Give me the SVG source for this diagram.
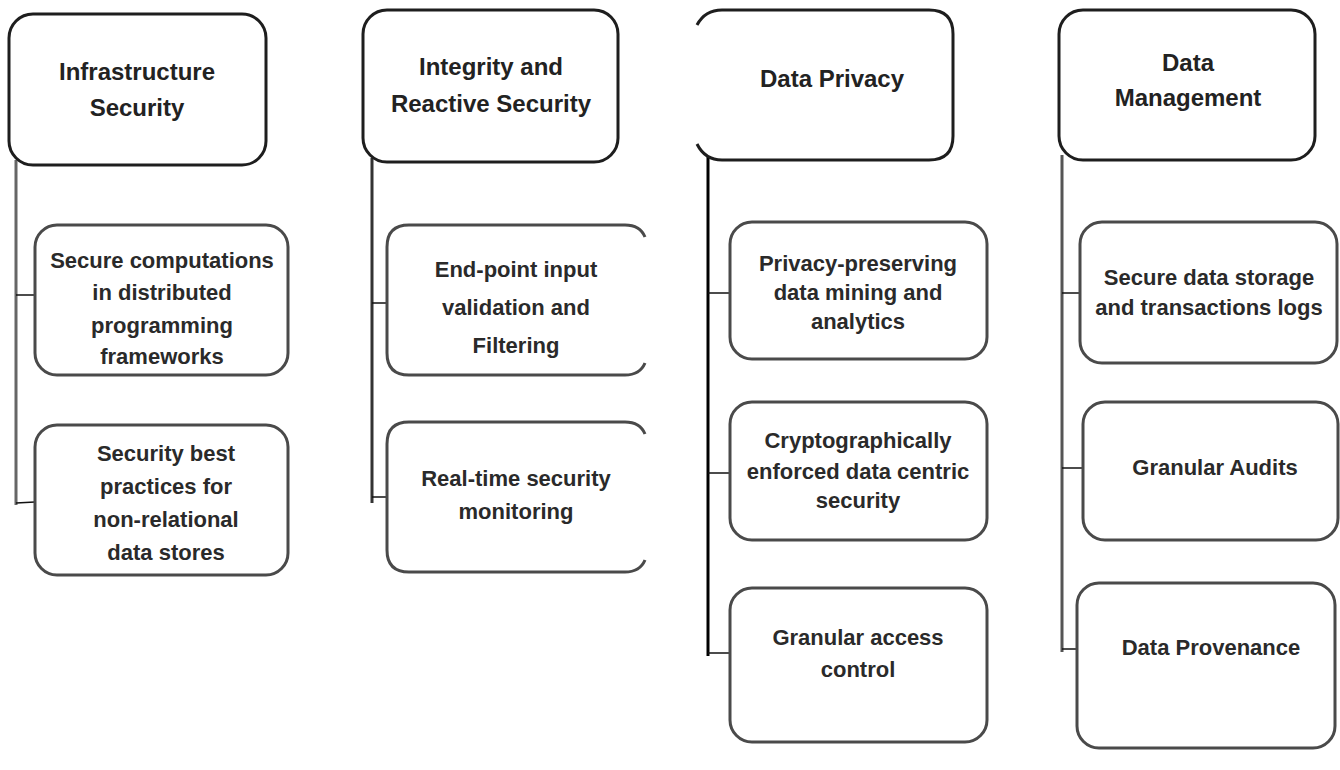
<svg xmlns="http://www.w3.org/2000/svg" width="1340" height="770" viewBox="0 0 1340 770">
<style>
  .hdr { fill: #fff; stroke: #1e1e1e; stroke-width: 3; }
  .box { fill: #fff; stroke: #4a4a4a; stroke-width: 3; }
  .ht { font-family: "Liberation Sans", Arial, sans-serif; font-size: 24px; font-weight: bold; fill: #222; text-anchor: middle; }
  .bt { font-family: "Liberation Sans", Arial, sans-serif; font-size: 22px; font-weight: bold; fill: #2a2a2a; text-anchor: middle; }
  .trunk { fill: none; stroke-width: 3; }
  .branch { fill: none; stroke: #111; stroke-width: 1.5; }
</style>
<rect width="1340" height="770" fill="#fff"/>

<g id="connectors">
  <line class="trunk" x1="16" y1="160" x2="16" y2="505" stroke="#666"/>
  <line class="branch" x1="16" y1="295" x2="35" y2="295"/>
  <line class="branch" x1="16" y1="503" x2="35" y2="502"/>

  <line class="trunk" x1="372" y1="158" x2="372" y2="503" stroke="#333" stroke-width="3.5"/>
  <line class="branch" x1="372" y1="303" x2="387" y2="303"/>
  <line class="branch" x1="372" y1="497" x2="387" y2="497"/>

  <line class="trunk" x1="708" y1="156" x2="708" y2="656" stroke="#000" stroke-width="4"/>
  <line class="branch" x1="708" y1="293" x2="730" y2="293"/>
  <line class="branch" x1="708" y1="473" x2="730" y2="473"/>
  <line class="branch" x1="708" y1="653" x2="730" y2="653"/>

  <line class="trunk" x1="1062" y1="155" x2="1062" y2="652" stroke="#555"/>
  <line class="branch" x1="1062" y1="293" x2="1080" y2="293"/>
  <line class="branch" x1="1062" y1="468" x2="1083" y2="468"/>
  <line class="branch" x1="1062" y1="649" x2="1077" y2="649"/>
</g>

<g id="infrastructure-security">
  <rect class="hdr" x="9" y="14" width="257" height="151" rx="24"/>
  <text class="ht" x="137" y="80">Infrastructure</text>
  <text class="ht" x="137" y="116">Security</text>
</g>
<g id="secure-computations">
  <rect class="box" x="35" y="225" width="253" height="150" rx="22"/>
  <text class="bt" x="162" y="268">Secure computations</text>
  <text class="bt" x="162" y="300">in distributed</text>
  <text class="bt" x="162" y="333">programming</text>
  <text class="bt" x="162" y="364">frameworks</text>
</g>
<g id="security-best-practices">
  <rect class="box" x="35" y="425" width="253" height="150" rx="22"/>
  <text class="bt" x="166" y="461">Security best</text>
  <text class="bt" x="166" y="494">practices for</text>
  <text class="bt" x="166" y="527">non-relational</text>
  <text class="bt" x="166" y="560">data stores</text>
</g>

<g id="integrity-reactive-security">
  <rect class="hdr" x="363" y="10" width="255" height="152" rx="24"/>
  <text class="ht" x="491" y="75">Integrity and</text>
  <text class="ht" x="491" y="112">Reactive Security</text>
</g>
<g id="endpoint-input-validation">
  <path class="box" d="M645,237 Q640,225 625,225 L409,225 Q387,225 387,247 L387,353 Q387,375 409,375 L625,375 Q640,375 645,363"/>
  <text class="bt" x="516" y="277">End-point input</text>
  <text class="bt" x="516" y="315">validation and</text>
  <text class="bt" x="516" y="353">Filtering</text>
</g>
<g id="realtime-security-monitoring">
  <path class="box" d="M645,434 Q640,422 625,422 L409,422 Q387,422 387,444 L387,550 Q387,572 409,572 L625,572 Q640,572 645,560"/>
  <text class="bt" x="516" y="486">Real-time security</text>
  <text class="bt" x="516" y="519">monitoring</text>
</g>

<g id="data-privacy">
  <path class="hdr" d="M697,25 Q705,10 722,10 L929,10 Q953,10 953,34 L953,136 Q953,160 929,160 L722,160 Q705,160 697,144"/>
  <text class="ht" x="832" y="87">Data Privacy</text>
</g>
<g id="privacy-preserving-mining">
  <rect class="box" x="730" y="222" width="257" height="137" rx="22"/>
  <text class="bt" x="858" y="271">Privacy-preserving</text>
  <text class="bt" x="858" y="300">data mining and</text>
  <text class="bt" x="858" y="329">analytics</text>
</g>
<g id="cryptographically-enforced">
  <rect class="box" x="730" y="402" width="257" height="138" rx="22"/>
  <text class="bt" x="858" y="448">Cryptographically</text>
  <text class="bt" x="858" y="479">enforced data centric</text>
  <text class="bt" x="858" y="508">security</text>
</g>
<g id="granular-access-control">
  <rect class="box" x="730" y="588" width="257" height="154" rx="22"/>
  <text class="bt" x="858" y="645">Granular access</text>
  <text class="bt" x="858" y="677">control</text>
</g>

<g id="data-management">
  <rect class="hdr" x="1059" y="10" width="256" height="150" rx="24"/>
  <text class="ht" x="1188" y="71">Data</text>
  <text class="ht" x="1188" y="106">Management</text>
</g>
<g id="secure-data-storage">
  <rect class="box" x="1080" y="222" width="257" height="141" rx="22"/>
  <text class="bt" x="1209" y="285">Secure data storage</text>
  <text class="bt" x="1209" y="315">and transactions logs</text>
</g>
<g id="granular-audits">
  <rect class="box" x="1083" y="402" width="255" height="138" rx="22"/>
  <text class="bt" x="1215" y="475">Granular Audits</text>
</g>
<g id="data-provenance">
  <rect class="box" x="1077" y="583" width="258" height="165" rx="22"/>
  <text class="bt" x="1211" y="655">Data Provenance</text>
</g>
</svg>
